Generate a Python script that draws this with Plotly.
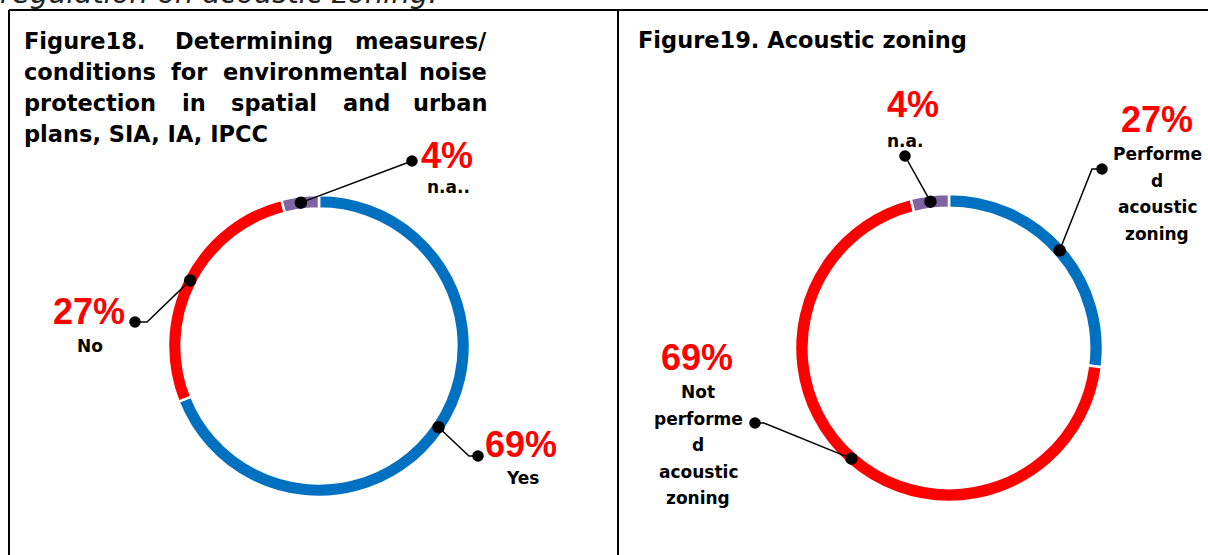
import math
import plotly.graph_objects as go

W, H = 1208, 555

# Figure 18 - measures/conditions for noise protection in plans
f18_labels = ["Yes", "No", "n.a.."]
f18_values = [69, 27, 4]

# Figure 19 - acoustic zoning
f19_labels = ["Performed acoustic zoning", "Not performed acoustic zoning", "n.a."]
f19_values = [27, 69, 4]

slice_colors = ["#0070C0", "#FF0000", "#8064A2"]

# label text as wrapped in the original document
f18_label_lines = [["Yes"], ["No"], ["n.a.."]]
f19_label_lines = [["Performe", "d", "acoustic", "zoning"],
                   ["Not", "performe", "d", "acoustic", "zoning"],
                   ["n.a."]]

title18_lines = [["Figure18.", "Determining", "measures/"],
                 ["conditions", "for", "environmental", "noise"],
                 ["protection", "in", "spatial", "and", "urban"],
                 ["plans, SIA, IA, IPCC"]]
title19 = "Figure19. Acoustic zoning"

FONT = "DejaVu Sans"
PCT_FONT = "Liberation Sans"
TITLE_SIZE = 22.5

# rough advance widths of DejaVu Sans Bold (em), used to justify the title
ADV = dict(a=.675, b=.716, c=.593, d=.716, e=.678, f=.435, g=.716, h=.712, i=.343,
           l=.343, m=1.042, n=.712, o=.687, p=.716, r=.493, s=.595, t=.478, u=.712,
           v=.652, z=.582)

# ring geometry (pixels): centre x, centre y, outer radius
ring18 = (319, 346, 151)
ring19 = (949, 348, 154)

# callout layout per slice: end dot, optional elbow, pct text centre, first label line centre
callout18 = [
    dict(end=(478, 456), elbow=(469, 456), pct=(521, 444), lab=(522, 478)),
    dict(end=(135, 322), elbow=(147, 322), pct=(89, 311), lab=(90, 346)),
    dict(end=(412, 161), elbow=None, pct=(447, 155), lab=(448, 187)),
]
callout19 = [
    dict(end=(1102, 169), elbow=(1092, 169), pct=(1157, 119), lab=(1157, 154)),
    dict(end=(755, 423), elbow=(764, 423), pct=(697, 357), lab=(698, 392)),
    dict(end=(905, 156), elbow=None, pct=(913, 104), lab=(905, 141)),
]


def donut(labels, values, ring):
    cx, cy, r = ring
    return go.Pie(
        labels=labels, values=values, sort=False, direction="clockwise", rotation=0,
        hole=0.91, textinfo="none", showlegend=False,
        marker=dict(colors=slice_colors, line=dict(color="white", width=2.5)),
        domain=dict(x=[(cx - r) / W, (cx + r) / W], y=[1 - (cy + r) / H, 1 - (cy - r) / H]),
    )


def ring_point(values, i, ring):
    cx, cy, r = ring
    rm = r - 6.5
    tot = sum(values)
    a = (sum(values[:i]) + values[i] / 2) / tot * 2 * math.pi
    return cx + rm * math.sin(a), cy - rm * math.cos(a)


def word_width(w, size):
    return sum(ADV.get(ch, 0.7) for ch in w) * size


fig = go.Figure()
fig.add_trace(donut(f18_labels, f18_values, ring18))
fig.add_trace(donut(f19_labels, f19_values, ring19))

shapes = []
annotations = []


def dot(x, y, d):
    shapes.append(dict(type="circle", xref="x", yref="y", x0=x - d / 2, x1=x + d / 2,
                       y0=y - d / 2, y1=y + d / 2, fillcolor="black",
                       line=dict(color="black", width=0), layer="above"))


def text(x, y, s, size, color="black", anchor="center", font=FONT, bold=True):
    annotations.append(dict(x=x, y=y, xref="x", yref="y", text=f"<b>{s}</b>" if bold else s,
                            showarrow=False, xanchor=anchor, yanchor="middle",
                            font=dict(family=font, size=size, color=color)))


for values, ring, callouts, label_lines in [(f18_values, ring18, callout18, f18_label_lines),
                                             (f19_values, ring19, callout19, f19_label_lines)]:
    for i, c in enumerate(callouts):
        px, py = ring_point(values, i, ring)
        pts = [(px, py)] + ([c["elbow"]] if c["elbow"] else []) + [c["end"]]
        path = "M " + " L ".join(f"{x:.1f},{y:.1f}" for x, y in pts)
        shapes.append(dict(type="path", xref="x", yref="y", path=path,
                           line=dict(color="black", width=1.5), layer="above"))
        dot(px, py, 12.5)
        dot(c["end"][0], c["end"][1], 11.5)
        text(c["pct"][0], c["pct"][1], f"{values[i]}%", 36, "#FF0000", font=PCT_FONT)
        lx, ly = c["lab"]
        for k, line in enumerate(label_lines[i]):
            text(lx, ly + k * 26.5, line, 17)

# justified title of figure 18
left, right = 22, 489
title_y = [41, 72, 103, 134]
for li, words in enumerate(title18_lines):
    if len(words) == 1:
        text(left, title_y[li], words[0], TITLE_SIZE, anchor="left")
        continue
    widths = [word_width(w, TITLE_SIZE) for w in words]
    gap = (right - left - sum(widths)) / (len(words) - 1)
    x = left
    for w, wd in zip(words, widths):
        if w == words[-1]:
            text(right, title_y[li], w, TITLE_SIZE, anchor="right")
        else:
            text(x, title_y[li], w, TITLE_SIZE, anchor="left")
        x += wd + gap

text(636, 40, title19, TITLE_SIZE, anchor="left")

# frame of the two panels
for x0, y0, x1, y1 in [(9, 10, 1208, 10), (9, 10, 9, 555), (618, 10, 618, 555)]:
    shapes.append(dict(type="line", xref="x", yref="y", x0=x0, y0=y0, x1=x1, y1=y1,
                       line=dict(color="black", width=2), layer="above"))

# cut-off sentence from the page above
annotations.append(dict(x=-2 / W, y=1 + 7 / H, xref="paper", yref="paper",
                        text="<i>regulation on acoustic zoning.</i>", showarrow=False,
                        xanchor="left", yanchor="middle",
                        font=dict(family=FONT, size=29, color="#222222")))

fig.update_layout(
    width=W, height=H, margin=dict(l=0, r=0, t=0, b=0),
    paper_bgcolor="white", plot_bgcolor="white",
    xaxis=dict(range=[0, W], visible=False, fixedrange=True),
    yaxis=dict(range=[H, 0], visible=False, fixedrange=True),
    shapes=shapes, annotations=annotations,
)

fig.write_html("out.html", config={"displayModeBar": False},
               post_script="document.body.style.margin='0px';")
